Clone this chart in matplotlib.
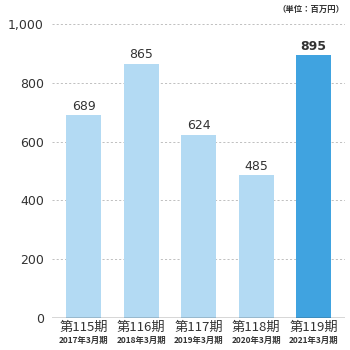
import matplotlib
matplotlib.use("Agg")
import matplotlib.pyplot as plt

plt.rcParams['font.family'] = ['Noto Sans CJK JP', 'DejaVu Sans']

periods = ["第115期", "第116期", "第117期", "第118期", "第119期"]
dates = ["2017年3月期", "2018年3月期", "2019年3月期", "2020年3月期", "2021年3月期"]
values = [689, 865, 624, 485, 895]
yticks = [0, 200, 400, 600, 800, 1000]
ytick_labels = ["0", "200", "400", "600", "800", "1,000"]

light = "#b3daf3"
dark = "#40a3e0"
colors = [light] * 4 + [dark]

fig = plt.figure(figsize=(3.5, 3.5), dpi=100)
ax = fig.add_axes([0.149, 0.0914, 0.837, 0.84])
x = list(range(len(values)))
ax.bar(x, values, width=0.61, color=colors, zorder=2)
for xi, v in zip(x, values):
    ax.text(xi, v + 8, str(v), ha='center', va='bottom', fontsize=9,
            color='#333333', fontweight='bold' if xi == 4 else 'normal', family=['DejaVu Sans'])

ax.set_xlim(-0.55, 4.55)
ax.set_ylim(0, 1000)
ax.set_yticks(yticks)
ax.set_yticklabels(ytick_labels, fontsize=9, color='#333333', family=['DejaVu Sans'])
for t in yticks[1:]:
    ax.axhline(t, color='#b5b5b5', lw=0.6, ls=(0, (2.5, 2.5)), zorder=1)
ax.axhline(0, color='#333333', lw=1.0, zorder=3)
for s in ax.spines.values():
    s.set_visible(False)
ax.tick_params(axis='y', length=0, pad=6)
ax.tick_params(axis='x', length=0)
ax.set_xticks([])
for xi, p, d in zip(x, periods, dates):
    ax.text(xi, -0.010, p, transform=ax.get_xaxis_transform(), ha='center', va='top',
            fontsize=9.5, color='#333333')
    ax.text(xi, -0.062, d, transform=ax.get_xaxis_transform(), ha='center', va='top',
            fontsize=6, fontweight='bold', color='#333333')
fig.text(0.983, 0.972, "（単位：百万円）", ha='right', va='center', fontsize=6,
         fontweight='bold', color='#333333')
fig.savefig("out.png", dpi=100)
